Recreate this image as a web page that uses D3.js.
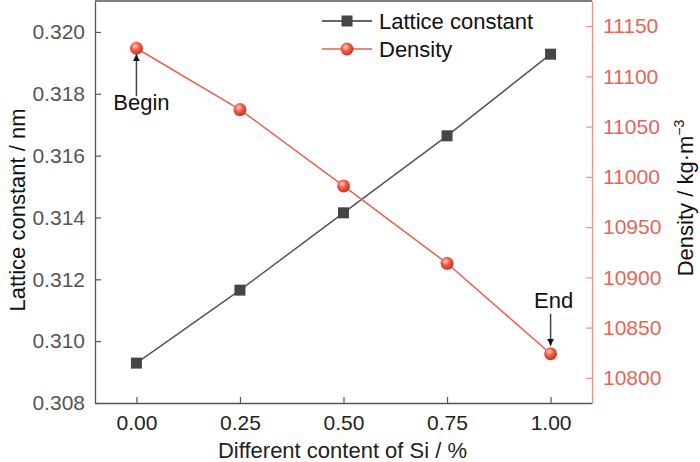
<!DOCTYPE html>
<html>
<head>
<meta charset="utf-8">
<script src="https://cdn.jsdelivr.net/npm/d3@7"></script>
<style>
  body { margin: 0; background: #fff; }
  text { font-family: "Liberation Sans", Arial, sans-serif; }
</style>
</head>
<body>
<div id="chart"></div>
<script>
// data
const siContent = [0.00, 0.25, 0.50, 0.75, 1.00];
const latticeConstant = [0.30929, 0.31165, 0.31415, 0.31664, 0.31928];
const density = [11128, 11067, 10991, 10914, 10824];

const xTicks = [0.00, 0.25, 0.50, 0.75, 1.00];
const leftTicks = [0.308, 0.310, 0.312, 0.314, 0.316, 0.318, 0.320];
const rightTicks = [10800, 10850, 10900, 10950, 11000, 11050, 11100, 11150];

const width = 700, height = 462;
const margin = {top: 1, left: 95, right: 108, bottom: 59};

const grayLine = "#555";
const redLine = "#e8604c";
const redText = "#e0685a";

const svg = d3.select("#chart")
    .append("svg")
    .attr("width", width)
    .attr("height", height);

// gradient for the ball markers
const defs = svg.append("defs");
const grad = defs.append("radialGradient")
    .attr("id", "ball")
    .attr("cx", "40%").attr("cy", "35%").attr("r", "65%");
grad.append("stop").attr("offset", "0%").attr("stop-color", "#ffd0c4");
grad.append("stop").attr("offset", "45%").attr("stop-color", "#f2604c");
grad.append("stop").attr("offset", "100%").attr("stop-color", "#c8321f");

defs.append("marker")
    .attr("id", "arrow")
    .attr("viewBox", "0 0 10 10")
    .attr("refX", 10).attr("refY", 5)
    .attr("markerWidth", 7).attr("markerHeight", 7)
    .attr("markerUnits", "userSpaceOnUse")
    .attr("orient", "auto")
  .append("path")
    .attr("d", "M0,0 L10,5 L0,10 Z")
    .attr("fill", "#111");

// scales
const xScale = d3.scaleLinear()
    .domain([-0.1, 1.1])
    .range([margin.left, width - margin.right]);

const yLeft = d3.scaleLinear()
    .domain([0.308, 0.321])
    .range([height - margin.bottom, margin.top]);

const yRight = d3.scaleLinear()
    .domain([10775, 11175])
    .range([height - margin.bottom, margin.top]);

// axes (ticks point inward)
const xAxis = svg.append("g")
    .attr("transform", `translate(0,${height - margin.bottom})`)
    .call(d3.axisBottom(xScale).tickValues(xTicks).tickFormat(d3.format(".2f"))
        .tickSizeInner(-6).tickSizeOuter(0).tickPadding(12));
xAxis.select(".domain").attr("stroke", grayLine).attr("stroke-width", 1.3);
xAxis.selectAll(".tick line").attr("stroke", grayLine).attr("stroke-width", 1.2);
xAxis.selectAll(".tick text").attr("fill", "#222").style("font-size", "21px");

const leftAxis = svg.append("g")
    .attr("transform", `translate(${margin.left},0)`)
    .call(d3.axisLeft(yLeft).tickValues(leftTicks).tickFormat(d3.format(".3f"))
        .tickSizeInner(-6).tickSizeOuter(0).tickPadding(10));
leftAxis.select(".domain").attr("stroke", grayLine).attr("stroke-width", 1.3);
leftAxis.selectAll(".tick line").attr("stroke", grayLine).attr("stroke-width", 1.2);
leftAxis.selectAll(".tick text").attr("fill", "#555").style("font-size", "21px");

const rightAxis = svg.append("g")
    .attr("transform", `translate(${width - margin.right},0)`)
    .call(d3.axisRight(yRight).tickValues(rightTicks).tickFormat(d3.format("d"))
        .tickSizeInner(-6).tickSizeOuter(0).tickPadding(11));
rightAxis.select(".domain").attr("stroke", "#ee9486").attr("stroke-width", 1.3);
rightAxis.selectAll(".tick line").attr("stroke", "#ee9486").attr("stroke-width", 1.2);
rightAxis.selectAll(".tick text").attr("fill", redText).style("font-size", "21px");

// top frame
svg.append("line")
    .attr("x1", margin.left).attr("x2", width - margin.right)
    .attr("y1", margin.top).attr("y2", margin.top)
    .attr("stroke", grayLine).attr("stroke-width", 1.5);

// lines
const latticeData = siContent.map((x, i) => ({x: x, y: latticeConstant[i]}));
const densityData = siContent.map((x, i) => ({x: x, y: density[i]}));

svg.append("path")
    .datum(latticeData)
    .attr("fill", "none")
    .attr("stroke", grayLine)
    .attr("stroke-width", 1.5)
    .attr("d", d3.line().x(d => xScale(d.x)).y(d => yLeft(d.y)));

svg.append("path")
    .datum(densityData)
    .attr("fill", "none")
    .attr("stroke", redLine)
    .attr("stroke-width", 1.5)
    .attr("d", d3.line().x(d => xScale(d.x)).y(d => yRight(d.y)));

// markers
const sq = 11;
svg.selectAll("rect.lattice")
    .data(latticeData)
    .enter()
    .append("rect")
        .attr("class", "lattice")
        .attr("x", d => xScale(d.x) - sq / 2)
        .attr("y", d => yLeft(d.y) - sq / 2)
        .attr("width", sq).attr("height", sq)
        .attr("fill", "#454545");

svg.selectAll("circle.density")
    .data(densityData)
    .enter()
    .append("circle")
        .attr("class", "density")
        .attr("cx", d => xScale(d.x))
        .attr("cy", d => yRight(d.y))
        .attr("r", 6.5)
        .attr("fill", "url(#ball)");

// annotations
const first = densityData[0], last = densityData[densityData.length - 1];
svg.append("line")
    .attr("x1", xScale(first.x)).attr("x2", xScale(first.x))
    .attr("y1", yRight(first.y) + 48).attr("y2", yRight(first.y) + 6)
    .attr("stroke", "#444").attr("stroke-width", 1.5)
    .attr("marker-end", "url(#arrow)");
svg.append("text")
    .attr("x", xScale(first.x) + 5)
    .attr("y", yRight(first.y) + 62)
    .attr("text-anchor", "middle")
    .style("font-size", "22px").attr("fill", "#111")
    .text("Begin");

svg.append("line")
    .attr("x1", xScale(last.x)).attr("x2", xScale(last.x))
    .attr("y1", yRight(last.y) - 40).attr("y2", yRight(last.y) - 8)
    .attr("stroke", "#444").attr("stroke-width", 1.5)
    .attr("marker-end", "url(#arrow)");
svg.append("text")
    .attr("x", xScale(last.x) + 3)
    .attr("y", yRight(last.y) - 46)
    .attr("text-anchor", "middle")
    .style("font-size", "22px").attr("fill", "#111")
    .text("End");

// legend
const legend = svg.append("g").attr("transform", "translate(322,0)");
const legendItems = [
    {label: "Lattice constant", color: "#333", shape: "rect", y: 21},
    {label: "Density", color: redLine, shape: "circle", y: 49}
];
legendItems.forEach(function(item) {
    legend.append("line")
        .attr("x1", 0).attr("x2", 50)
        .attr("y1", item.y).attr("y2", item.y)
        .attr("stroke", item.color).attr("stroke-width", 1.5);
    if (item.shape === "rect") {
        legend.append("rect")
            .attr("x", 25 - sq / 2).attr("y", item.y - sq / 2)
            .attr("width", sq).attr("height", sq)
            .attr("fill", "#454545");
    } else {
        legend.append("circle")
            .attr("cx", 25).attr("cy", item.y).attr("r", 6.5)
            .attr("fill", "url(#ball)");
    }
    legend.append("text")
        .attr("x", 57).attr("y", item.y + 8)
        .style("font-size", "22px").attr("fill", "#111")
        .text(item.label);
});

// axis labels
svg.append("text")
    .attr("x", (margin.left + width - margin.right) / 2 - 1)
    .attr("y", height - 4)
    .attr("text-anchor", "middle")
    .style("font-size", "22px").attr("fill", "#222")
    .text("Different content of Si / %");

svg.append("text")
    .attr("transform", "rotate(-90)")
    .attr("x", -210)
    .attr("y", 25)
    .attr("text-anchor", "middle")
    .style("font-size", "22px").attr("fill", "#111")
    .text("Lattice constant / nm");

const rightLabel = svg.append("text")
    .attr("transform", "rotate(-90)")
    .attr("x", -198)
    .attr("y", 693)
    .attr("text-anchor", "middle")
    .style("font-size", "22px").attr("fill", "#111");
rightLabel.append("tspan").text("Density / kg\u00b7m");
rightLabel.append("tspan")
    .attr("dy", -9)
    .style("font-size", "14px")
    .text("\u22123");
</script>
</body>
</html>
